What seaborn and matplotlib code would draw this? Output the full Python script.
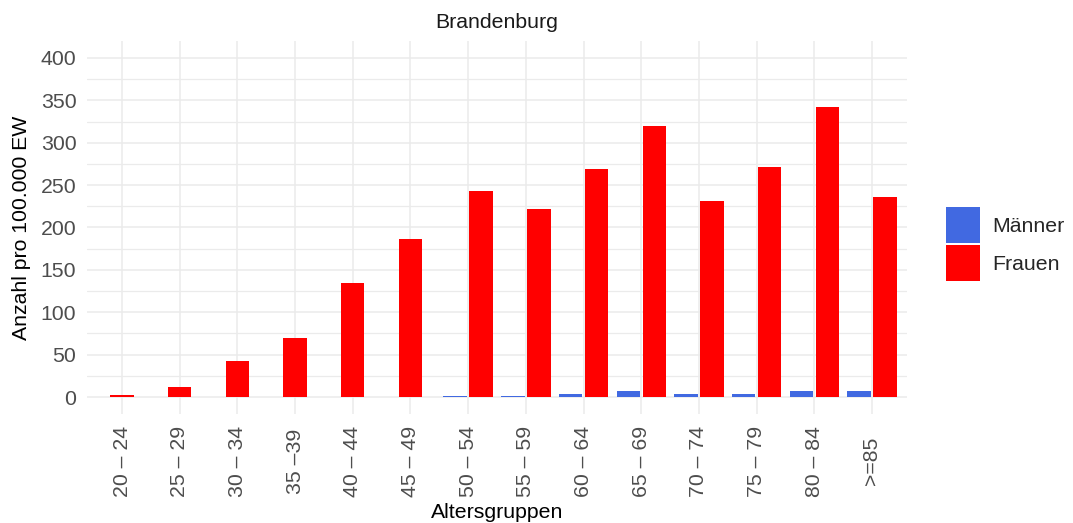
import numpy as np
import pandas as pd
import matplotlib
matplotlib.use("Agg")
import matplotlib.pyplot as plt
from matplotlib.ticker import MultipleLocator
import seaborn as sns

# ---- data ----
age_groups = ["20 – 24", "25 – 29", "30 – 34", "35 –39", "40 – 44", "45 – 49",
              "50 – 54", "55 – 59", "60 – 64", "65 – 69", "70 – 74", "75 – 79",
              "80 – 84", ">=85"]
maenner = [np.nan, np.nan, np.nan, np.nan, np.nan, np.nan,
           1, 1, 3.5, 7.5, 3.5, 3.5, 7.5, 7.5]
frauen = [3, 12, 42, 70, 135, 186, 243, 222, 269, 320, 231, 271, 342, 236]
series = ["Männer", "Frauen"]
colors = ["#4169E1", "#FF0000"]
title = "Brandenburg"
xlabel = "Altersgruppen"
ylabel = "Anzahl pro 100.000 EW"

df = pd.DataFrame({
    "Altersgruppe": age_groups * 2,
    "Geschlecht": [series[0]] * len(age_groups) + [series[1]] * len(age_groups),
    "Wert": maenner + frauen,
}).dropna()

sns.set_theme(style="white")
plt.rcParams["font.family"] = ["Liberation Sans", "DejaVu Sans"]
FS = 15.3

fig = plt.figure(figsize=(10.73, 5.23), dpi=100)
ax = fig.add_axes([87.4 / 1073, 1 - 414 / 523, 819.2 / 1073, 373 / 523])

sns.barplot(data=df, x="Altersgruppe", y="Wert", hue="Geschlecht",
            order=age_groups, hue_order=series, palette=colors, saturation=1,
            width=0.9, gap=0.1, errorbar=None, linewidth=0, ax=ax,
            zorder=3)

# center the Frauen bar where no Männer bar exists (like dodge2 preserve="single")
missing = set(a for a, m in zip(age_groups, maenner) if np.isnan(m))
for patch in ax.containers[1].patches:
    w = patch.get_width()
    c = patch.get_x() + w / 2
    idx = int(round(c))
    if age_groups[idx] in missing:
        patch.set_x(idx - w / 2)

ax.set_xlim(-0.6, len(age_groups) - 0.4)
ax.set_ylim(-20, 420)
ax.yaxis.set_major_locator(MultipleLocator(50))
ax.yaxis.set_minor_locator(MultipleLocator(25))

ax.grid(True, which="major", axis="both", color="#EBEBEB", linewidth=1.1, zorder=0)
ax.grid(True, which="minor", axis="y", color="#EBEBEB", linewidth=0.9, zorder=0)
ax.set_axisbelow(True)
for s in ax.spines.values():
    s.set_visible(False)

ax.tick_params(axis="both", which="both", length=0, labelsize=FS, labelcolor="#4D4D4D")
ax.tick_params(axis="y", pad=8)
ax.set_xticks(range(len(age_groups)))
ax.set_xticklabels(age_groups, rotation=90, va="center", ha="center")
ax.tick_params(axis="x", pad=34)

ax.set_xlabel(xlabel, fontsize=FS, color="black")
ax.xaxis.set_label_coords(0.5, -(512 - 414) / 373)
ax.xaxis.label.set_va("center")
ax.set_ylabel(ylabel, fontsize=FS, color="black", va="center")
ax.yaxis.set_label_coords(-(87.4 - 22) / 819.2, 0.5)

ax.text(0.5, 1 + (41 - 22) / 373, title, transform=ax.transAxes,
        ha="center", va="center", fontsize=FS, color="#1A1A1A")

leg = ax.get_legend()
handles = leg.legend_handles
leg.remove()
fig.legend(handles, series, loc="center left",
           bbox_to_anchor=(946 / 1073, 1 - 244 / 523), frameon=False,
           fontsize=FS, handlelength=1.6, handleheight=2.2, labelspacing=0.12,
           handletextpad=0.6, borderpad=0, borderaxespad=0)

fig.savefig("out.png", dpi=100)
